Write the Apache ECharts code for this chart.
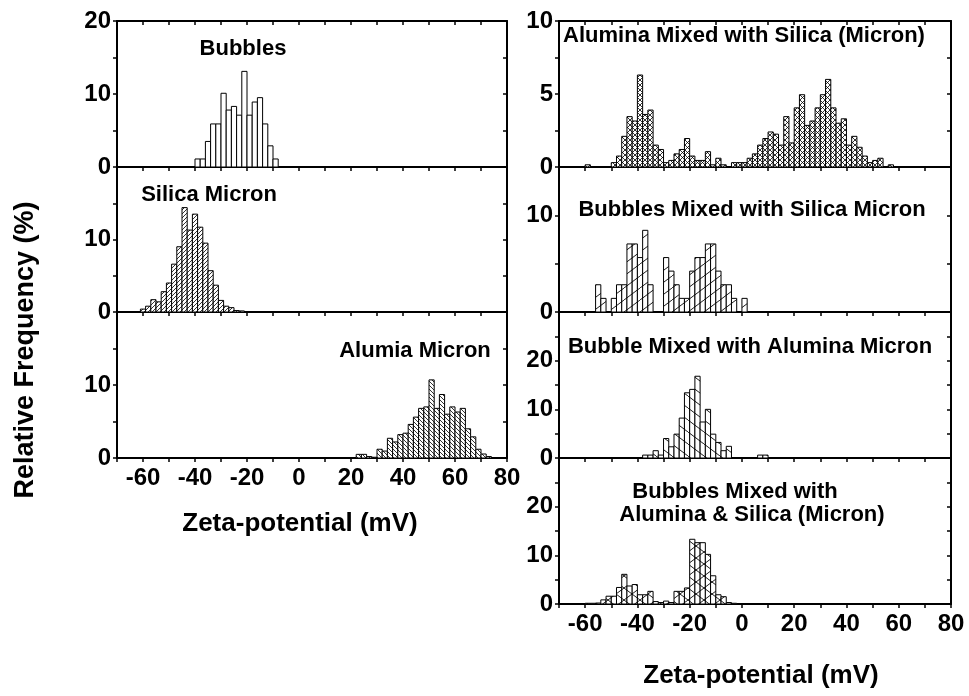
<!DOCTYPE html>
<html>
<head>
<meta charset="utf-8">
<script src="https://cdn.jsdelivr.net/npm/echarts@6/dist/echarts.min.js"></script>
<style>
  html, body { margin: 0; padding: 0; background: #fff; }
  #chart { width: 969px; height: 696px; }
</style>
</head>
<body>
<div id="chart"></div>
<script>
// Zeta-potential distributions; every histogram bin is 2 mV wide and
// is stored by its centre (mV) with its relative frequency (%).
const BIN = 2;

const bubblesCenters = [-39, -37, -35, -33, -31, -29, -27, -25, -23, -21, -19, -17, -15, -13, -11, -9];
const bubblesFreq    = [1.1, 1.1, 3.5, 5.9, 5.9, 10.1, 7.8, 8.3, 7.1, 13.1, 7.1, 8.9, 9.5, 5.9, 2.9, 1.1];

const silicaCenters = [-60, -58, -56, -54, -52, -50, -48, -46, -44, -42, -40, -38, -36, -34, -32, -30, -28, -26, -24, -22];
const silicaFreq    = [0.4, 0.8, 1.7, 1.4, 2.8, 4.0, 6.6, 9.0, 14.4, 11.3, 13.5, 11.7, 9.5, 5.7, 3.7, 1.6, 0.8, 0.6, 0.2, 0.15];

const aluminaCenters = [23, 25, 27, 29, 31, 33, 35, 37, 39, 41, 43, 45, 47, 49, 51, 53, 55, 57, 59, 61, 63, 65, 67, 69, 71, 73];
const aluminaFreq    = [0.5, 0.5, 0.2, 0.1, 1.2, 0.95, 2.7, 2.2, 3.2, 3.4, 4.6, 5.6, 6.8, 7.0, 10.7, 6.8, 8.7, 6.0, 7.0, 6.3, 6.8, 4.0, 2.9, 1.2, 0.55, 0.2];

const aluSilCenters = [-59, -57, -55, -53, -51, -49, -47, -45, -43, -41, -39, -37, -35, -33, -31, -29, -27, -25, -23, -21,
                       -19, -17, -15, -13, -11, -9, -7, -5, -3, -1, 1, 3, 5, 7, 9, 11, 13, 15, 17, 19,
                       21, 23, 25, 27, 29, 31, 33, 35, 37, 39, 41, 43, 45, 47, 49, 51, 53, 55, 57];
const aluSilFreq    = [0.15, 0, 0, 0, 0, 0.3, 0.75, 2.1, 3.45, 3.15, 6.3, 3.6, 3.9, 1.5, 1.2, 0.3, 0.45, 0.9, 1.2, 1.95,
                       0.75, 0.45, 0.45, 1.05, 0.15, 0.6, 0.15, 0, 0.3, 0.3, 0.3, 0.6, 0.9, 1.5, 1.95, 2.4, 2.25, 1.5, 3.45, 1.65,
                       4.05, 4.95, 2.85, 3.15, 4.05, 4.95, 6.0, 4.05, 3.0, 3.3, 1.5, 2.1, 1.35, 0.75, 0.3, 0.45, 0.6, 0, 0.15];

const bubSilCenters = [-55, -53, -51, -49, -47, -45, -43, -41, -39, -37, -35, -33, -31, -29, -27, -25, -23, -21, -19, -17,
                       -15, -13, -11, -9, -7, -5, -3, -1, 1];
const bubSilFreq    = [2.82, 1.41, 0, 1.41, 2.82, 2.82, 7.04, 7.04, 5.63, 8.45, 2.82, 0, 0, 5.63, 4.23, 2.82, 1.41, 1.41, 4.23, 5.63,
                       5.63, 7.04, 7.04, 4.23, 2.82, 2.82, 1.41, 0, 1.41];

const bubAluCenters = [-37, -35, -33, -31, -29, -27, -25, -23, -21, -19, -17, -15, -13, -11, -9, -7, -5, -3, -1, 1, 3, 5, 7, 9];
const bubAluFreq    = [0.6, 0.6, 1.5, 0.6, 4.0, 2.3, 4.9, 8.2, 13.4, 14.1, 16.8, 7.4, 10.0, 4.9, 3.2, 1.5, 2.4, 0, 0, 0, 0, 0, 0.6, 0.6];

const bubAluSilCenters = [-59, -57, -55, -53, -51, -49, -47, -45, -43, -41, -39, -37, -35, -33, -31, -29, -27, -25, -23, -21,
                          -19, -17, -15, -13, -11, -9, -7, -5, -3];
const bubAluSilFreq    = [0.15, 0.15, 0.2, 0.85, 1.6, 1.6, 3.4, 6.1, 3.7, 4.0, 1.9, 1.9, 2.6, 0.5, 0.3, 0.6, 0.3, 2.6, 2.6, 3.3,
                          13.3, 12.6, 12.6, 10.2, 5.8, 1.9, 1.5, 0.3, 0.15];

const panelTitles = [
  'Bubbles', 'Silica Micron', 'Alumia Micron',
  'Alumina Mixed with Silica (Micron)', 'Bubbles Mixed with Silica Micron',
  'Bubble Mixed with Alumina Micron', 'Bubbles Mixed with', 'Alumina & Silica (Micron)'
];
const xTitle = 'Zeta-potential (mV)';
const yTitle = 'Relative Frequency (%)';

// ---------- hatch fills ----------
function hatchTile(w, h, dirs, lw, bg) {
  const cv = document.createElement('canvas');
  cv.width = w; cv.height = h;
  const ctx = cv.getContext('2d');
  ctx.fillStyle = bg || '#fff';
  ctx.fillRect(0, 0, w, h);
  ctx.strokeStyle = '#000';
  ctx.lineWidth = lw;
  dirs.forEach(function (d) {
    ctx.beginPath();
    for (let k = -1; k <= 1; k++) {
      if (d === '/') { ctx.moveTo(k * w, h); ctx.lineTo(k * w + w, 0); }
      else { ctx.moveTo(k * w, 0); ctx.lineTo(k * w + w, h); }
    }
    ctx.stroke();
  });
  return { image: cv, repeat: 'repeat' };
}

const fills = {
  plain: '#fff',
  fwd: hatchTile(4, 4, ['/'], 0.8),
  back: hatchTile(4, 4, ['\\'], 0.8),
  cross: hatchTile(5, 5, ['/', '\\'], 0.8),
  fwdSparse: hatchTile(16, 12, ['/'], 0.9),
  backSparse: hatchTile(16, 12, ['\\'], 0.9),
  crossSparse: hatchTile(16, 12, ['/', '\\'], 0.9)
};

// ---------- panel layout ----------
const FONT = '"Liberation Sans", Arial, sans-serif';
const panels = [
  { left: 117, top: 21,  width: 390, height: 146, ymax: 20, yStep: 5, yLabelStep: 10, xLabels: false, topLabel: true,  c: bubblesCenters,   v: bubblesFreq,   fill: fills.plain },
  { left: 117, top: 167, width: 390, height: 145, ymax: 20, yStep: 5, yLabelStep: 10, xLabels: false, topLabel: false, c: silicaCenters,    v: silicaFreq,    fill: fills.fwd },
  { left: 117, top: 312, width: 390, height: 146, ymax: 20, yStep: 5, yLabelStep: 10, xLabels: true,  topLabel: false, c: aluminaCenters,   v: aluminaFreq,   fill: fills.back },
  { left: 559, top: 21,  width: 392, height: 146, ymax: 10, yStep: 2.5, yLabelStep: 5, xLabels: false, topLabel: true, c: aluSilCenters,   v: aluSilFreq,    fill: fills.cross },
  { left: 559, top: 167, width: 392, height: 145, ymax: 15, yStep: 5, yLabelStep: 10, xLabels: false, topLabel: false, c: bubSilCenters,   v: bubSilFreq,    fill: fills.fwdSparse },
  { left: 559, top: 312, width: 392, height: 146, ymax: 30, yStep: 5, yLabelStep: 10, xLabels: false, topLabel: false, c: bubAluCenters,   v: bubAluFreq,    fill: fills.backSparse },
  { left: 559, top: 458, width: 392, height: 146, ymax: 30, yStep: 5, yLabelStep: 10, xLabels: true,  topLabel: false, c: bubAluSilCenters, v: bubAluSilFreq, fill: fills.crossSparse }
];

const axisLine = { show: true, onZero: false, lineStyle: { color: '#000', width: 2 } };
const tickStyle = { color: '#000', width: 1.5 };
const labelFont = { color: '#000', fontFamily: FONT, fontWeight: 'bold', fontSize: 24 };

const grid = [], xAxis = [], yAxis = [], series = [];
panels.forEach(function (p, i) {
  grid.push({ left: p.left, top: p.top, width: p.width, height: p.height, containLabel: false, outerBoundsMode: 'none' });
  // bottom axis with labels (outer ticks)
  xAxis.push({
    type: 'value', gridIndex: i, position: 'bottom', min: -70, max: 80, interval: 10,
    axisLine: axisLine, splitLine: { show: false },
    axisTick: { show: true, inside: false, length: 4, lineStyle: tickStyle },
    axisLabel: Object.assign({
      show: p.xLabels, margin: 8, showMinLabel: true, showMaxLabel: true,
      formatter: function (v) { return v % 20 === 0 ? String(v) : ''; }
    }, labelFont)
  });
  // top border
  xAxis.push({
    type: 'value', gridIndex: i, position: 'top', min: -70, max: 80, interval: 10,
    axisLine: axisLine, splitLine: { show: false },
    axisTick: { show: true, inside: true, length: 4, lineStyle: tickStyle },
    axisLabel: { show: false }
  });
  yAxis.push({
    type: 'value', gridIndex: i, position: 'left', min: 0, max: p.ymax, interval: p.yStep,
    axisLine: axisLine, splitLine: { show: false },
    axisTick: { show: true, inside: false, length: 4, lineStyle: tickStyle },
    axisLabel: Object.assign({
      show: true, margin: 6, showMinLabel: true, showMaxLabel: true,
      formatter: function (v) {
        if (v === p.ymax && !p.topLabel) return '';
        return (Math.abs(v / p.yLabelStep - Math.round(v / p.yLabelStep)) < 1e-6) ? String(v) : '';
      }
    }, labelFont)
  });
  yAxis.push({
    type: 'value', gridIndex: i, position: 'right', min: 0, max: p.ymax, interval: p.yStep,
    axisLine: axisLine, splitLine: { show: false },
    axisTick: { show: true, inside: true, length: 4, lineStyle: tickStyle },
    axisLabel: { show: false }
  });
  const data = p.c.map(function (c, k) { return [c, p.v[k]]; });
  series.push({
    type: 'custom', xAxisIndex: 2 * i, yAxisIndex: 2 * i, clip: true, z: 3,
    encode: { x: 0, y: 1 }, data: data, silent: true,
    renderItem: function (params, api) {
      const c = api.value(0), v = api.value(1);
      if (!v) return null;
      const a = api.coord([c - BIN / 2, v]);
      const b = api.coord([c + BIN / 2, 0]);
      return {
        type: 'rect',
        shape: { x: a[0], y: a[1], width: b[0] - a[0], height: b[1] - a[1] },
        style: { fill: p.fill, stroke: '#000', lineWidth: 1 }
      };
    }
  });
});

function txt(text, x, y, size, extra) {
  return Object.assign({
    type: 'text', x: x, y: y, z: 10,
    style: { text: text, fill: '#000', font: 'bold ' + size + 'px ' + FONT, align: 'center', verticalAlign: 'middle' }
  }, extra || {});
}

const graphic = [
  txt(panelTitles[0], 243, 49, 22),
  txt(panelTitles[1], 209, 195, 22),
  txt(panelTitles[2], 415, 351, 22),
  txt(panelTitles[3], 744, 36, 22),
  txt(panelTitles[4], 752, 210, 22),
  txt(panelTitles[5], 750, 347, 22),
  txt(panelTitles[6], 735, 492, 22),
  txt(panelTitles[7], 752, 515, 22),
  txt(xTitle, 300, 524, 26),
  txt(xTitle, 761, 676, 26),
  txt(yTitle, 26, 350, 27, { rotation: Math.PI / 2 })
];

const chart = echarts.init(document.getElementById('chart'), null, { renderer: 'canvas' });
chart.setOption({
  animation: false,
  backgroundColor: '#fff',
  grid: grid, xAxis: xAxis, yAxis: yAxis, series: series, graphic: graphic
});
</script>
</body>
</html>
